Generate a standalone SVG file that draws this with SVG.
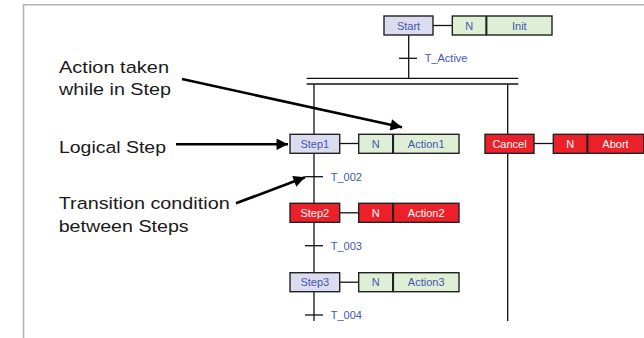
<svg xmlns="http://www.w3.org/2000/svg" width="644" height="338" viewBox="0 0 644 338">
<defs>
<style>
.frame{stroke:#b3b3b3;stroke-width:1.6;fill:none}
.ln{stroke:#111;stroke-width:1.3;fill:none}
.step{fill:#dcdcf0;stroke:#222;stroke-width:1.4}
.act{fill:#deefd6;stroke:#222;stroke-width:1.4}
.red{fill:#ec2028;stroke:#222;stroke-width:1.4}
.t{font-family:"Liberation Sans",Arial,sans-serif;font-size:11px;fill:#4458b0}
.tc{font-family:"Liberation Sans",Arial,sans-serif;font-size:11px;fill:#4458b0;text-anchor:middle}
.tw{font-family:"Liberation Sans",Arial,sans-serif;font-size:11px;fill:#ffffff;text-anchor:middle}
.lab{font-family:"Liberation Sans",Arial,sans-serif;font-size:16.3px;fill:#1a1a1a}
.arr{stroke:#000;stroke-width:2.6;fill:none}
</style>
<marker id="ah" viewBox="0 0 10 10" refX="10" refY="5" markerWidth="6" markerHeight="4.4" markerUnits="strokeWidth" orient="auto">
<path d="M0,0 L10,5 L0,10 Z" fill="#000"/>
</marker>
</defs>

<g id="frame">
<line class="frame" x1="23" y1="4.8" x2="644" y2="4.8"/>
<line class="frame" x1="23.5" y1="4" x2="23.5" y2="338"/>
</g>

<g id="connectors">
<line class="ln" x1="408.7" y1="35" x2="408.7" y2="78.3"/>
<line class="ln" x1="399" y1="58.3" x2="417" y2="58.3"/>
<line class="ln" x1="306.7" y1="78.3" x2="518.3" y2="78.3"/>
<line class="ln" x1="306.7" y1="84" x2="518.3" y2="84"/>
<line class="ln" x1="314" y1="84" x2="314" y2="321"/>
<line class="ln" x1="507.7" y1="84" x2="507.7" y2="321"/>
<line class="ln" x1="305" y1="176.7" x2="323" y2="176.7"/>
<line class="ln" x1="305" y1="245.7" x2="323" y2="245.7"/>
<line class="ln" x1="305" y1="315" x2="323" y2="315"/>
<line class="ln" x1="433" y1="25.5" x2="452.3" y2="25.5"/>
<line class="ln" x1="340" y1="143.5" x2="358.7" y2="143.5"/>
<line class="ln" x1="340" y1="212.8" x2="358.7" y2="212.8"/>
<line class="ln" x1="340" y1="282.2" x2="358.7" y2="282.2"/>
<line class="ln" x1="534" y1="143.5" x2="553.3" y2="143.5"/>
<line class="arr" x1="182" y1="79" x2="402" y2="127.3" marker-end="url(#ah)"/>
<line class="arr" x1="176" y1="144.3" x2="288" y2="144.3" marker-end="url(#ah)"/>
<line class="arr" x1="236" y1="203.3" x2="305" y2="177.3" marker-end="url(#ah)"/>
</g>

<g id="start">
<rect class="step" x="384" y="16" width="49" height="19"/>
<text class="tc" x="408.5" y="29.5">Start</text>
</g>
<g id="start-action">
<rect class="act" x="452.3" y="16" width="33.7" height="19"/>
<text class="tc" x="469.2" y="29.5">N</text>
<rect class="act" x="486.7" y="16" width="65.3" height="19"/>
<text class="tc" x="519.3" y="29.5">Init</text>
</g>
<text id="t-active" class="t" x="424.7" y="62.3">T_Active</text>

<g id="step1">
<rect class="step" x="290" y="134.3" width="49.7" height="19"/>
<text class="tc" x="314.8" y="147.8">Step1</text>
</g>
<g id="action1">
<rect class="act" x="358.7" y="134.3" width="34" height="19"/>
<text class="tc" x="375.7" y="147.8">N</text>
<rect class="act" x="393.4" y="134.3" width="65.6" height="19"/>
<text class="tc" x="426.2" y="147.8">Action1</text>
</g>
<text id="t002" class="t" x="330.7" y="180.5">T_002</text>

<g id="step2">
<rect class="red" x="290" y="203.3" width="49.7" height="19"/>
<text class="tw" x="314.8" y="216.8">Step2</text>
</g>
<g id="action2">
<rect class="red" x="358.7" y="203.3" width="34" height="19"/>
<text class="tw" x="375.7" y="216.8">N</text>
<rect class="red" x="393.4" y="203.3" width="65.6" height="19"/>
<text class="tw" x="426.2" y="216.8">Action2</text>
</g>
<text id="t003" class="t" x="330.7" y="249.5">T_003</text>

<g id="step3">
<rect class="step" x="290" y="272.7" width="49.7" height="19"/>
<text class="tc" x="314.8" y="286.2">Step3</text>
</g>
<g id="action3">
<rect class="act" x="358.7" y="272.7" width="34" height="19"/>
<text class="tc" x="375.7" y="286.2">N</text>
<rect class="act" x="393.4" y="272.7" width="65.6" height="19"/>
<text class="tc" x="426.2" y="286.2">Action3</text>
</g>
<text id="t004" class="t" x="330.7" y="318.8">T_004</text>

<g id="cancel">
<rect class="red" x="485" y="134.3" width="49" height="19"/>
<text class="tw" x="509.5" y="147.8">Cancel</text>
</g>
<g id="cancel-action">
<rect class="red" x="553.3" y="134.3" width="33.7" height="19"/>
<text class="tw" x="570.2" y="147.8">N</text>
<rect class="red" x="587.7" y="134.3" width="56" height="19"/>
<text class="tw" x="615.5" y="147.8">Abort</text>
</g>

<g id="labels">
<text class="lab" x="59" y="72.7" textLength="110" lengthAdjust="spacingAndGlyphs">Action taken</text>
<text class="lab" x="59" y="94.5" textLength="112" lengthAdjust="spacingAndGlyphs">while in Step</text>
<text class="lab" x="59" y="152.5" textLength="107" lengthAdjust="spacingAndGlyphs">Logical Step</text>
<text class="lab" x="58.7" y="209.3" textLength="171" lengthAdjust="spacingAndGlyphs">Transition condition</text>
<text class="lab" x="58.7" y="231.7" textLength="130" lengthAdjust="spacingAndGlyphs">between Steps</text>
</g>
</svg>
